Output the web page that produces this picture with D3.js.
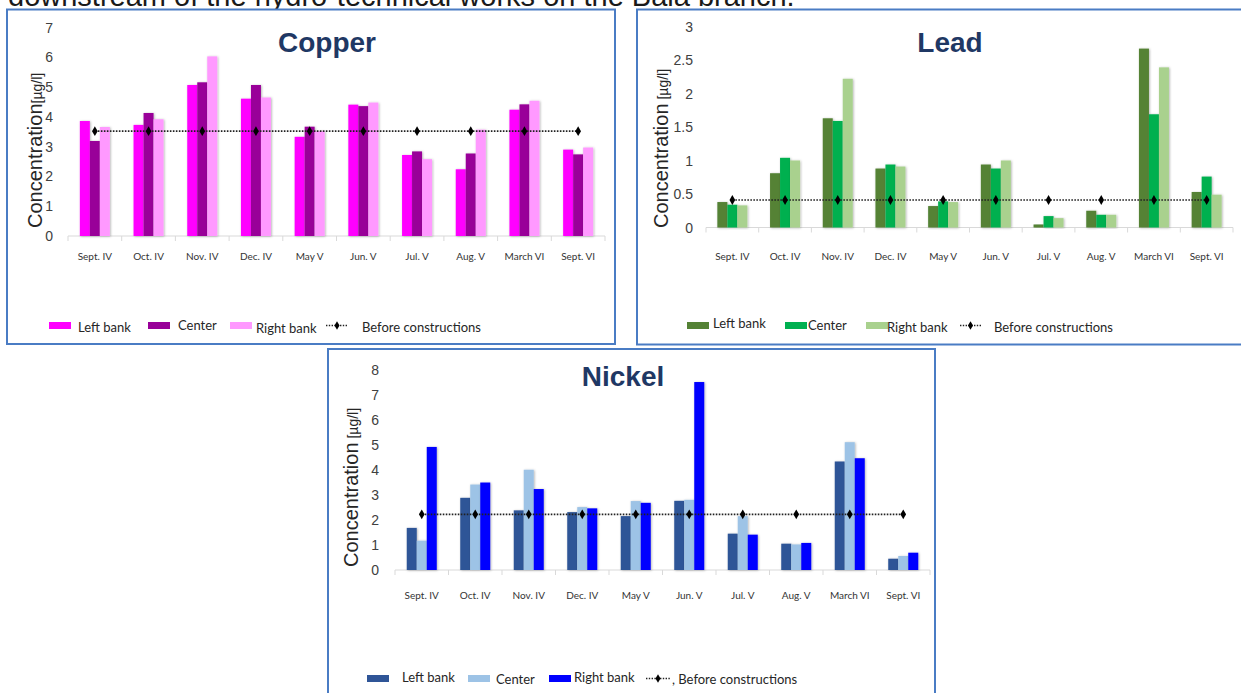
<!DOCTYPE html>
<html>
<head>
<meta charset="utf-8">
<script src="https://cdn.jsdelivr.net/npm/d3@7"></script>
<style>
  html, body { margin: 0; padding: 0; background: #fff; }
  svg { display: block; }
</style>
</head>
<body>
<svg id="chart" width="1241" height="693"></svg>
<script>
// ---------- DATA ----------
const categories = ["Sept. IV", "Oct. IV", "Nov. IV", "Dec. IV", "May V", "Jun. V", "Jul. V", "Aug. V", "March VI", "Sept. VI"];
const seriesNames = ["Left bank", "Center", "Right bank"];
const beforeName = "Before constructions";

const copperLeft   = [3.86, 3.73, 5.07, 4.61, 3.33, 4.41, 2.72, 2.24, 4.24, 2.90];
const copperCenter = [3.19, 4.13, 5.16, 5.07, 3.67, 4.36, 2.84, 2.77, 4.42, 2.74];
const copperRight  = [3.66, 3.92, 6.03, 4.65, 3.52, 4.48, 2.58, 3.57, 4.54, 2.97];
const copperBefore = 3.52;
const copperTicks  = [0, 1, 2, 3, 4, 5, 6, 7];

const leadLeft   = [0.38, 0.81, 1.63, 0.88, 0.32, 0.94, 0.045, 0.25, 2.67, 0.53];
const leadCenter = [0.34, 1.04, 1.59, 0.94, 0.39, 0.88, 0.17, 0.19, 1.69, 0.76];
const leadRight  = [0.33, 1.00, 2.22, 0.91, 0.38, 1.00, 0.14, 0.19, 2.39, 0.49];
const leadBefore = 0.41;
const leadTicks  = [0, 0.5, 1, 1.5, 2, 2.5, 3];

const nickelLeft   = [1.68, 2.88, 2.38, 2.31, 2.15, 2.76, 1.45, 1.05, 4.33, 0.45];
const nickelCenter = [1.17, 3.41, 4.00, 2.51, 2.75, 2.80, 2.15, 1.02, 5.10, 0.56];
const nickelRight  = [4.91, 3.49, 3.23, 2.46, 2.68, 7.50, 1.41, 1.08, 4.46, 0.69];
const nickelBefore = 2.22;
const nickelTicks  = [0, 1, 2, 3, 4, 5, 6, 7, 8];

// ---------- DRAWING ----------
const svg = d3.select("#chart");
const defs = svg.append("defs");
const f = defs.append("filter").attr("id", "sh").attr("x", "-30%").attr("y", "-10%").attr("width", "160%").attr("height", "120%");
f.append("feDropShadow").attr("dx", 0.8).attr("dy", 0.5).attr("stdDeviation", 0.9)
  .attr("flood-color", "#000").attr("flood-opacity", 0.3);

// caption fragment at top
svg.append("text")
  .attr("x", 8).attr("y", 6)
  .attr("font-family", "Liberation Sans, Arial, sans-serif")
  .attr("font-size", 29).attr("fill", "#1a1a1a")
  .text("downstream of the hydro-technical works on the Bala branch.");

const axisFont = "Liberation Sans, Arial, sans-serif";
const labelFont = "Lato, 'Open Sans', sans-serif";

function panel(cfg) {
  const g = svg.append("g");
  // frame
  g.append("rect")
    .attr("x", cfg.frame[0]).attr("y", cfg.frame[1])
    .attr("width", cfg.frame[2]).attr("height", cfg.frame[3])
    .attr("fill", "#fff").attr("stroke", "#4a7cc4").attr("stroke-width", 2);

  const x0 = d3.scaleBand().domain(categories).range(cfg.xr).paddingInner(0).paddingOuter(0);
  const groupW = 30;
  const x1 = d3.scaleBand().domain(seriesNames).range([0, groupW]).padding(0);
  const y = d3.scaleLinear().domain(cfg.yd).range(cfg.yr);

  // x axis baseline and ticks
  const base = y(0);
  g.append("line").attr("x1", cfg.xr[0]).attr("x2", cfg.xr[1]).attr("y1", base).attr("y2", base)
    .attr("stroke", "#d9d9d9").attr("stroke-width", 1);
  const bounds = categories.map(c => x0(c)).concat([cfg.xr[1]]);
  g.selectAll(".xt").data(bounds).enter().append("line")
    .attr("x1", d => d).attr("x2", d => d).attr("y1", base).attr("y2", base + 5)
    .attr("stroke", "#d9d9d9").attr("stroke-width", 1);

  // y tick labels
  g.selectAll(".yl").data(cfg.ticks).enter().append("text")
    .attr("x", cfg.tickX).attr("y", d => y(d))
    .attr("dy", "0.36em").attr("text-anchor", "end")
    .attr("font-family", axisFont).attr("font-size", 14).attr("fill", "#404040")
    .text(d => d3.format("~g")(d));

  // x labels
  g.selectAll(".xl").data(categories).enter().append("text")
    .attr("x", d => x0(d) + x0.bandwidth() / 2).attr("y", cfg.xLabelY)
    .attr("text-anchor", "middle")
    .attr("font-family", labelFont).attr("font-size", 10).attr("fill", "#333")
    .text(d => d);

  // bars
  const rows = categories.map((c, i) => ({ cat: c, vals: cfg.series.map((s, k) => ({ name: seriesNames[k], v: s[i], color: cfg.colors[k] })) }));
  const off = (x0.bandwidth() - groupW) / 2;
  const grp = g.selectAll(".grp").data(rows).enter().append("g")
    .attr("transform", d => `translate(${x0(d.cat) + off},0)`);
  grp.selectAll("rect").data(d => d.vals).enter().append("rect")
    .attr("x", d => x1(d.name)).attr("width", x1.bandwidth())
    .attr("y", d => y(d.v)).attr("height", d => base - y(d.v))
    .attr("fill", d => d.color).attr("filter", "url(#sh)");

  // before constructions line
  const pts = categories.map(c => [x0(c) + x0.bandwidth() / 2, y(cfg.before)]);
  g.append("path").attr("d", d3.line()(pts))
    .attr("fill", "none").attr("stroke", "#222").attr("stroke-width", 1.6)
    .attr("stroke-dasharray", "1.6,1.4");
  g.selectAll(".mk").data(pts).enter().append("path")
    .attr("d", d3.symbol().type(d3.symbolDiamond).size(28))
    .attr("transform", d => `translate(${d[0]},${d[1]})`)
    .attr("fill", "#000");

  // title
  g.append("text").attr("x", cfg.title[1]).attr("y", cfg.title[2])
    .attr("text-anchor", "middle").attr("font-family", axisFont)
    .attr("font-weight", "bold").attr("font-size", 28).attr("fill", "#1f3864")
    .text(cfg.title[0]);

  // y axis title
  const yt = g.append("text")
    .attr("transform", `translate(${cfg.yTitle[0]},${cfg.yTitle[1]}) rotate(-90)`)
    .attr("font-family", axisFont).attr("fill", "#262626");
  yt.append("tspan").attr("font-size", 20).text("Concentration");
  yt.append("tspan").attr("font-size", 14).text(cfg.yUnit);

  // legend
  const L = cfg.legend;
  seriesNames.forEach((n, k) => {
    g.append("rect").attr("x", L.sw[k]).attr("y", L.swY).attr("width", L.swW).attr("height", 7)
      .attr("fill", cfg.colors[k]);
    g.append("text").attr("x", L.tx[k]).attr("y", L.ty[k])
      .attr("font-family", labelFont).attr("font-size", 13).attr("fill", "#262626")
      .text(n);
  });
  const ly = L.swY + 3.5;
  g.append("line").attr("x1", L.line[0]).attr("x2", L.line[1]).attr("y1", ly).attr("y2", ly)
    .attr("stroke", "#222").attr("stroke-width", 1.4).attr("stroke-dasharray", "1.4,1.4");
  g.append("path").attr("d", d3.symbol().type(d3.symbolDiamond).size(22))
    .attr("transform", `translate(${(L.line[0] + L.line[1]) / 2},${ly})`).attr("fill", "#000");
  g.append("text").attr("x", L.tx[3]).attr("y", L.ty[3])
    .attr("font-family", labelFont).attr("font-size", 13).attr("fill", "#262626")
    .text((L.comma ? ",  " : "") + beforeName);
}

panel({
  frame: [7, 9.5, 608, 334.5],
  xr: [68, 605], yd: [0, 7], yr: [236, 27.5],
  ticks: copperTicks, tickX: 53, xLabelY: 260,
  series: [copperLeft, copperCenter, copperRight], before: copperBefore,
  colors: ["#ff00ff", "#990099", "#ff99ff"],
  title: ["Copper", 327, 52],
  yTitle: [42, 228], yUnit: "[µg/l]",
  legend: { sw: [49, 148, 230], swY: 322, swW: 22, tx: [78, 178, 256, 362], ty: [332, 330, 333, 332], line: [326, 348] }
});

panel({
  frame: [637, 9.5, 612, 335],
  xr: [706, 1233], yd: [0, 3], yr: [227.5, 26.5],
  ticks: leadTicks, tickX: 693, xLabelY: 260,
  series: [leadLeft, leadCenter, leadRight], before: leadBefore,
  colors: ["#548235", "#00b050", "#a9d18e"],
  title: ["Lead", 950, 52],
  yTitle: [668, 228], yUnit: " [µg/l]",
  legend: { sw: [687, 785, 866], swY: 322, swW: 22, tx: [713, 808, 887, 994], ty: [328, 330, 332, 332], line: [960, 981] }
});

panel({
  frame: [328, 349, 607, 360],
  xr: [395, 930], yd: [0, 8], yr: [570, 369.5],
  ticks: nickelTicks, tickX: 379, xLabelY: 599,
  series: [nickelLeft, nickelCenter, nickelRight], before: nickelBefore,
  colors: ["#2f5597", "#9dc3e6", "#0000ff"],
  title: ["Nickel", 623, 386],
  yTitle: [358, 567], yUnit: " [µg/l]",
  legend: { sw: [367, 468, 549], swY: 675, swW: 22, tx: [402, 496, 574, 672], ty: [682, 684, 682, 684], line: [646, 670], comma: true }
});
</script>
</body>
</html>
